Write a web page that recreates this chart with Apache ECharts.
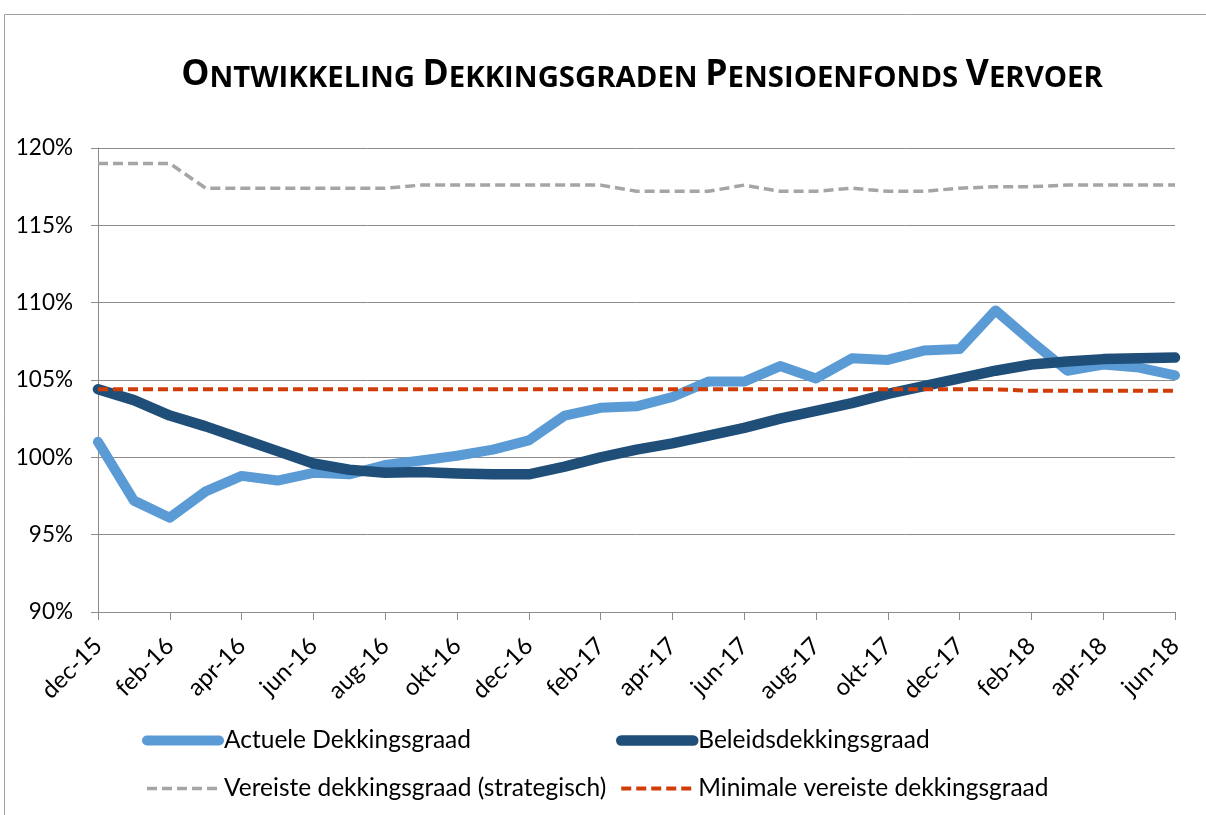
<!DOCTYPE html>
<html lang="nl">

<head>
    <meta charset="UTF-8">
    <title>Ontwikkeling dekkingsgraden</title>
    <script src="https://cdn.jsdelivr.net/npm/echarts@6/dist/echarts.min.js"></script>
    <style>
        * {
            padding: 0;
            margin: 0;
        }

        html,
        body {
            width: 100%;
            height: 100%;
            background: #fff;
        }

        #chart {
            width: 1206px;
            height: 815px;
        }
    </style>
</head>

<body>
    <div id="chart"></div>
</body>

</html>
<script>
    // maanden dec-15 t/m jun-18
    let months = ['dec-15', 'jan-16', 'feb-16', 'mrt-16', 'apr-16', 'mei-16', 'jun-16', 'jul-16', 'aug-16', 'sep-16',
        'okt-16', 'nov-16', 'dec-16', 'jan-17', 'feb-17', 'mrt-17', 'apr-17', 'mei-17', 'jun-17', 'jul-17', 'aug-17',
        'sep-17', 'okt-17', 'nov-17', 'dec-17', 'jan-18', 'feb-18', 'mrt-18', 'apr-18', 'mei-18', 'jun-18'];
    let actueel = [101.0, 97.2, 96.1, 97.8, 98.8, 98.5, 99.0, 98.9, 99.5, 99.8,
        100.1, 100.5, 101.1, 102.7, 103.2, 103.3, 103.9, 104.9, 104.9, 105.9, 105.1,
        106.4, 106.3, 106.9, 107.0, 109.5, 107.5, 105.6, 106.0, 105.8, 105.3];
    let beleid = [104.4, 103.7, 102.7, 102.0, 101.2, 100.4, 99.6, 99.2, 99.0, 99.05,
        98.95, 98.9, 98.9, 99.4, 100.0, 100.5, 100.9, 101.4, 101.9, 102.5, 103.0,
        103.5, 104.1, 104.6, 105.1, 105.6, 106.0, 106.2, 106.35, 106.4, 106.45];
    let vereist = [119.0, 119.0, 119.0, 117.4, 117.4, 117.4, 117.4, 117.4, 117.4, 117.6,
        117.6, 117.6, 117.6, 117.6, 117.6, 117.2, 117.2, 117.2, 117.6, 117.2, 117.2,
        117.4, 117.2, 117.2, 117.4, 117.5, 117.5, 117.6, 117.6, 117.6, 117.6];
    let minimaal = [104.4, 104.4, 104.4, 104.4, 104.4, 104.4, 104.4, 104.4, 104.4, 104.4,
        104.4, 104.4, 104.4, 104.4, 104.4, 104.4, 104.4, 104.4, 104.4, 104.4, 104.4,
        104.4, 104.4, 104.4, 104.4, 104.4, 104.3, 104.3, 104.3, 104.3, 104.3];
    let names = ['Actuele Dekkingsgraad', 'Beleidsdekkingsgraad',
        'Vereiste dekkingsgraad (strategisch)', 'Minimale vereiste dekkingsgraad'];

    const font = 'Lato';
    const titleFont = 'Open Sans';
    const gridColor = '#8c8c8c';

    var myChart = echarts.init(document.getElementById('chart'));
    option = {
        backgroundColor: '#fff',
        animation: false,
        textStyle: { fontFamily: font },
        title: {
            // kleine hoofdletters nagebootst met twee lettergroottes
            text: '{b|O}{s|NTWIKKELING }{b|D}{s|EKKINGSGRADEN }{b|P}{s|ENSIOENFONDS }{b|V}{s|ERVOER}',
            left: 637,
            top: 68,
            textAlign: 'center',
            textStyle: {
                rich: {
                    b: { fontFamily: titleFont, fontWeight: 'bold', fontSize: 35.5, lineHeight: 20.2, verticalAlign: 'bottom', color: '#000' },
                    s: { fontFamily: titleFont, fontWeight: 'bold', fontSize: 29.3, lineHeight: 16.7, verticalAlign: 'bottom', color: '#000' }
                }
            }
        },
        graphic: [{
            type: 'rect',
            shape: { x: 4.5, y: 14.5, width: 1400, height: 1000 },
            style: { fill: 'none', stroke: '#a0a0a0', lineWidth: 1 },
            silent: true
        }],
        grid: {
            left: 98,
            right: 31,
            top: 148,
            bottom: 203,
            outerBoundsMode: 'none'
        },
        legend: [
            {
                orient: 'vertical',
                left: 137,
                top: 722,
                itemWidth: 72,
                itemHeight: 12,
                itemGap: 21,
                data: [names[0], names[2]],
                lineStyle: { width: 'inherit' },
                itemStyle: { color: 'rgba(0,0,0,0)', borderWidth: 0 },
                textStyle: { fontFamily: font, fontSize: 24.5, lineHeight: 27, color: '#000' }
            },
            {
                orient: 'vertical',
                left: 611,
                top: 722,
                itemWidth: 72,
                itemHeight: 12,
                itemGap: 21,
                data: [names[1], names[3]],
                lineStyle: { width: 'inherit' },
                itemStyle: { color: 'rgba(0,0,0,0)', borderWidth: 0 },
                textStyle: { fontFamily: font, fontSize: 24.5, lineHeight: 27, color: '#000' }
            }
        ],
        xAxis: {
            type: 'category',
            boundaryGap: false,
            data: months,
            axisLine: { lineStyle: { color: gridColor } },
            axisTick: { interval: 1, length: 8, lineStyle: { color: gridColor } },
            axisLabel: {
                interval: 1,
                rotate: 45,
                margin: 30,
                fontFamily: font,
                fontSize: 24,
                color: '#000'
            }
        },
        yAxis: {
            type: 'value',
            min: 90,
            max: 120,
            interval: 5,
            axisLine: { show: true, lineStyle: { color: gridColor } },
            axisTick: { show: true, length: 7, lineStyle: { color: gridColor } },
            splitLine: { lineStyle: { color: gridColor } },
            axisLabel: {
                formatter: '{value}%',
                margin: 25,
                fontFamily: font,
                fontSize: 22.5,
                color: '#000'
            }
        },
        series: [
            {
                name: names[0],
                type: 'line',
                data: actueel,
                symbol: 'none',
                lineStyle: { color: '#5b9bd5', width: 10, cap: 'round', join: 'round' },
                itemStyle: { color: '#5b9bd5' }
            },
            {
                name: names[1],
                type: 'line',
                data: beleid,
                symbol: 'none',
                lineStyle: { color: '#1f4e79', width: 10.5, cap: 'round', join: 'round' },
                itemStyle: { color: '#1f4e79' }
            },
            {
                name: names[2],
                type: 'line',
                data: vereist,
                symbol: 'none',
                lineStyle: { color: '#a5a5a5', width: 3.5, type: [10, 5] },
                itemStyle: { color: '#a5a5a5' }
            },
            {
                name: names[3],
                type: 'line',
                data: minimaal,
                symbol: 'none',
                lineStyle: { color: '#d13d06', width: 4, type: [10, 5] },
                itemStyle: { color: '#d13d06' }
            }
        ]
    };
    myChart.setOption(option);
</script>
